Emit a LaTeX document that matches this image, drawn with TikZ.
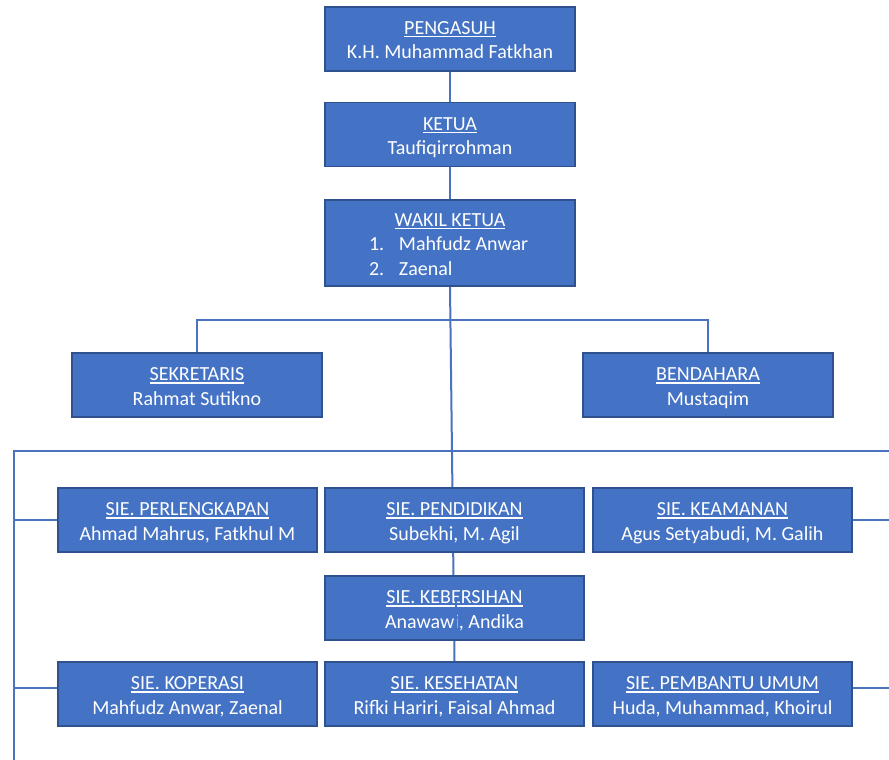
\documentclass[tikz,border=0pt]{standalone}
\usepackage{fontspec}
\setmainfont{Carlito}
\usetikzlibrary{backgrounds}
\definecolor{boxfill}{HTML}{4472C4}
\definecolor{boxedge}{HTML}{2F528F}
\definecolor{wirec}{HTML}{4A72BE}
\newcommand{\ulx}[1]{\setbox0\hbox{#1}\rlap{\rule[-3pt]{\wd0}{1.1pt}}\box0}
\newcommand{\bxt}[2]{\rule{0pt}{18pt}\smash{\ulx{#1}}\\\smash{#2}\rule[-2.5pt]{0pt}{2.5pt}}
\begin{document}
\begin{tikzpicture}[x=1pt,y=-1pt,
  orgbox/.style={draw=boxedge, line width=1.3pt, fill=boxfill, text=white,
    font=\fontsize{20}{24.5}\selectfont, align=center, minimum height=64pt, inner sep=0pt},
  wideb/.style={orgbox, minimum width=250pt},
  sieb/.style={orgbox, minimum width=259pt},
  connector/.style={draw=wirec, line width=2pt}]
\useasboundingbox (0,0) rectangle (889,760);

\node[wideb] (pengasuh) at (450,39) {\bxt{PENGASUH}{K.H. Muhammad Fatkhan}};
\node[wideb] (ketua) at (450,134.5) {\bxt{KETUA}{Taufiqirrohman}};
\node[wideb, minimum height=86pt] (wakil) at (450,243) {\rule{0pt}{18pt}\smash{\ulx{WAKIL KETUA}}\\
  \makebox[162pt][l]{\makebox[30pt][l]{1.}Mahfudz Anwar}\\
  \smash{\makebox[162pt][l]{\makebox[30pt][l]{2.}Zaenal}}\rule[-2.5pt]{0pt}{2.5pt}};
\node[wideb] (sekretaris) at (197,385) {\bxt{SEKRETARIS}{Rahmat Sutikno}};
\node[wideb] (bendahara) at (708,385) {\bxt{BENDAHARA}{Mustaqim}};

\node[sieb] (perlengkapan) at (187.5,520) {\bxt{SIE. PERLENGKAPAN}{Ahmad Mahrus, Fatkhul M}};
\node[sieb] (pendidikan) at (454.5,520) {\bxt{SIE. PENDIDIKAN}{Subekhi, M. Agil}};
\node[sieb] (keamanan) at (722.5,520) {\bxt{SIE. KEAMANAN}{Agus Setyabudi, M. Galih}};
\node[sieb] (kebersihan) at (454.5,608) {\bxt{SIE. KEBERSIHAN}{Anawawi, Andika}};
\node[sieb] (koperasi) at (187.5,694) {\bxt{SIE. KOPERASI}{Mahfudz Anwar, Zaenal}};
\node[sieb] (kesehatan) at (454.5,694) {\bxt{SIE. KESEHATAN}{Rifki Hariri, Faisal Ahmad}};
\node[sieb] (pembantu) at (722.5,694) {\bxt{SIE. PEMBANTU UMUM}{Huda, Muhammad, Khoirul}};

% gap left in the KEBERSIHAN text by the trunk line
\draw[boxfill, line width=2.5pt] ([yshift=-22pt]kebersihan.north -| 456,0) -- ([yshift=8pt]kebersihan.south -| 456,0);

\coordinate (bl) at (14,451);
\coordinate (br) at (889,451);
\coordinate (bb) at (14,760);
\coordinate (sb) at (450,320);

\begin{scope}[on background layer]
  \fill[white] (0,0) rectangle (889,760);
  \draw[connector] (pengasuh.south) -- (ketua.north);
  \draw[connector] (ketua.south) -- (wakil.north);
  \draw[connector] (wakil.south) -- (kesehatan.north);
  \draw[connector] (sekretaris.north) |- (sb) -| (bendahara.north);
  \draw[connector] (br) -- (bl) -- (bb);
  \draw[connector] (bl |- perlengkapan.west) -- (perlengkapan.west);
  \draw[connector] ([yshift=6pt]koperasi.west -| bl) -- ([yshift=6pt]koperasi.west);
  \draw[connector] (keamanan.east) -- (keamanan.east -| br);
  \draw[connector] ([yshift=6pt]pembantu.east) -- ([yshift=6pt]pembantu.east -| br);
\end{scope}
\end{tikzpicture}
\end{document}
